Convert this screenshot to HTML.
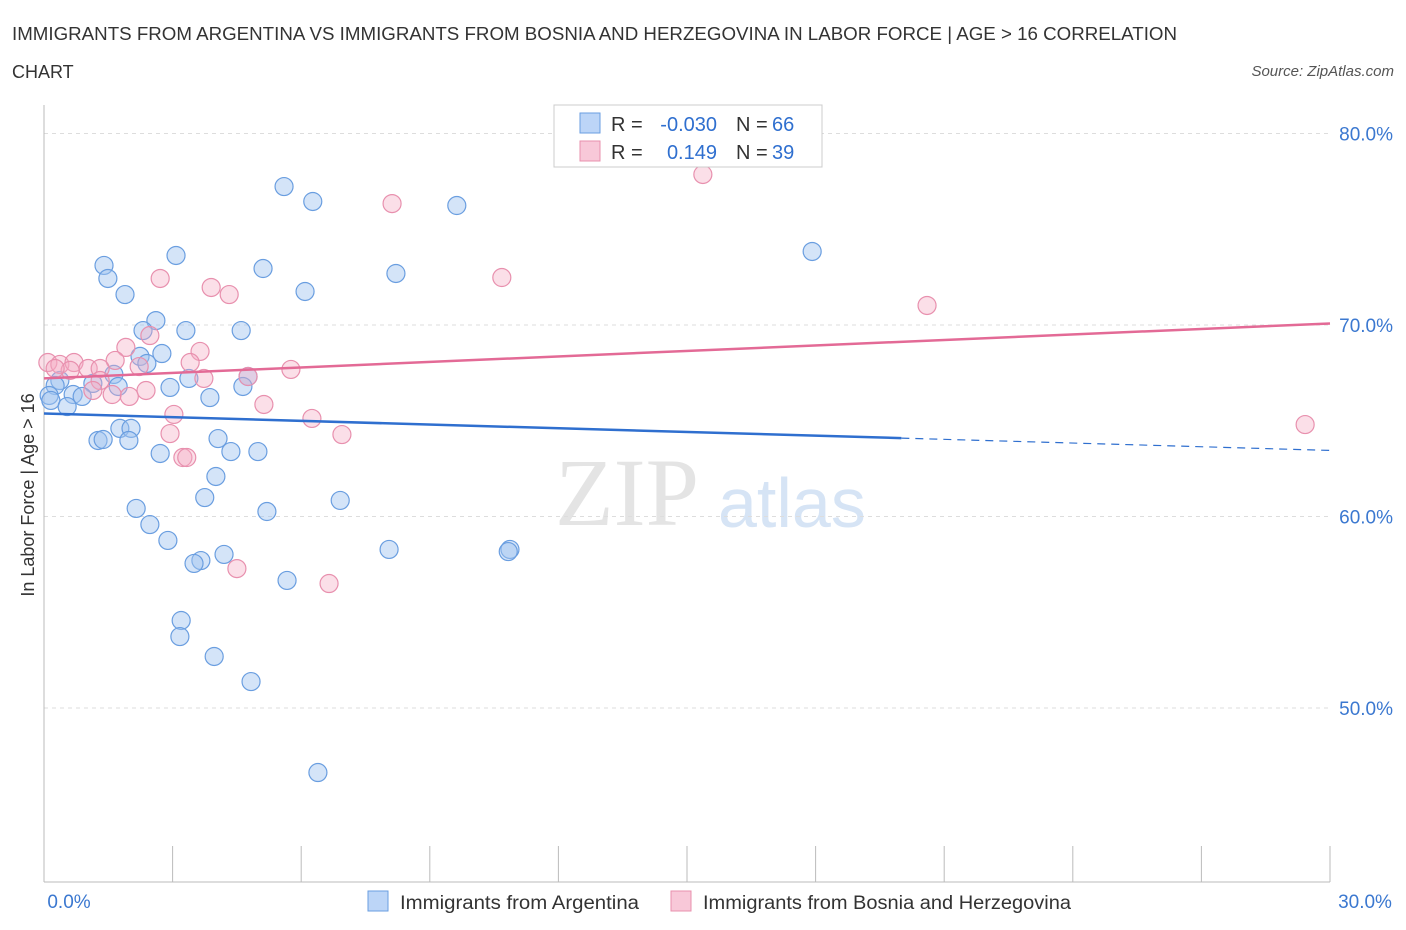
<!DOCTYPE html>
<html><head><meta charset="utf-8"><style>
body{margin:0;background:#fff;font-family:"Liberation Sans",sans-serif;}
svg{display:block}
</style></head><body>
<svg id="c" width="1406" height="930">
<text x="12" y="40" font-size="18" fill="#333" textLength="1165" lengthAdjust="spacingAndGlyphs">IMMIGRANTS FROM ARGENTINA VS IMMIGRANTS FROM BOSNIA AND HERZEGOVINA IN LABOR FORCE | AGE &gt; 16 CORRELATION</text>
<text x="12" y="78" font-size="18" fill="#333">CHART</text>
<text x="1394" y="76" font-size="15" fill="#555" font-style="italic" text-anchor="end">Source: ZipAtlas.com</text>
<text x="0" y="0" transform="translate(34,495) rotate(-90)" font-size="18" fill="#333" text-anchor="middle">In Labor Force | Age &gt; 16</text>
<text x="555" y="525" font-size="96" fill="#e4e4e4" font-family="Liberation Serif,serif">ZIP</text>
<text x="718" y="527" font-size="70" fill="#d6e4f5">atlas</text>
<g id="grid"></g><g id="pts"></g><g id="lines"></g>
<g>
<rect x="554" y="105" width="268" height="62" fill="#fff" stroke="#ccc"/>
<rect x="580" y="113" width="20" height="20" fill="#bcd5f7" stroke="#6a9ee0"/>
<text x="611" y="131" font-size="20" fill="#333">R =</text>
<text x="717" y="131" font-size="20" fill="#2f6fcf" text-anchor="end">-0.030</text>
<text x="736" y="131" font-size="20" fill="#333">N =</text>
<text x="772" y="131" font-size="20" fill="#2f6fcf">66</text>
<rect x="580" y="141" width="20" height="20" fill="#f8c8d8" stroke="#e890ae"/>
<text x="611" y="159" font-size="20" fill="#333">R =</text>
<text x="717" y="159" font-size="20" fill="#2f6fcf" text-anchor="end">0.149</text>
<text x="736" y="159" font-size="20" fill="#333">N =</text>
<text x="772" y="159" font-size="20" fill="#2f6fcf">39</text>
</g>
<g>
<rect x="368" y="891" width="20" height="20" fill="#bcd5f7" stroke="#6a9ee0"/>
<text x="400" y="909" font-size="19" fill="#333" textLength="239" lengthAdjust="spacingAndGlyphs">Immigrants from Argentina</text>
<rect x="671" y="891" width="20" height="20" fill="#f8c8d8" stroke="#e890ae"/>
<text x="703" y="909" font-size="19" fill="#333" textLength="368" lengthAdjust="spacingAndGlyphs">Immigrants from Bosnia and Herzegovina</text>
</g>
</svg>
<script>
const blueX=[5.60,6.27,9.63,17.92,3.08,1.40,1.49,5.11,8.21,1.89,6.09,2.61,2.31,3.31,4.60,2.75,2.24,2.40,1.63,3.38,4.76,4.64,2.94,1.73,1.14,0.37,0.26,0.12,0.16,0.68,0.89,0.54,3.87,1.77,2.03,1.26,1.38,1.98,4.06,2.71,4.36,4.99,4.01,3.75,6.91,2.15,5.20,2.47,2.89,8.05,10.87,10.83,4.20,3.66,3.50,5.67,3.20,3.17,3.97,4.83,6.39];
const blueY=[77.23,76.45,76.24,73.84,73.63,73.11,72.43,72.95,72.69,71.59,71.75,70.23,69.71,69.71,69.71,68.51,68.36,67.99,67.42,67.21,67.31,66.79,66.74,66.79,66.95,67.10,66.84,66.32,66.06,66.37,66.27,65.74,66.21,64.60,64.60,63.97,64.02,63.97,64.07,63.29,63.39,63.39,62.09,60.99,60.84,60.42,60.26,59.58,58.75,58.28,58.28,58.17,58.02,57.70,57.55,56.66,54.57,53.73,52.69,51.38,46.63];
const pinkX=[15.37,8.12,2.71,10.68,3.90,4.32,20.60,2.47,1.91,3.64,1.66,3.41,0.09,0.37,0.70,1.03,1.31,2.22,5.76,0.61,3.73,4.76,1.31,1.14,1.59,2.38,1.99,5.13,3.03,6.25,2.94,6.95,3.24,29.42,3.33,4.50,6.65,0.26];
const pinkY=[77.86,76.34,72.43,72.48,71.96,71.59,71.02,69.45,68.83,68.62,68.15,68.04,68.04,67.94,68.04,67.73,67.73,67.83,67.68,67.63,67.21,67.31,67.10,66.58,66.37,66.58,66.27,65.85,65.33,65.12,64.33,64.28,63.08,64.80,63.08,57.28,56.50,67.73];
const blueLine=[65.38,63.45]; const pinkLine=[67.21,70.08];
const yTicks=[50,60,70,80]; const xTicks=[0,3,6,9,12,15,18,21,24,27,30];
const NS="http://www.w3.org/2000/svg";
const sx=v=>44+v/30*1286, sy=v=>133.5+(80-v)*19.15;
function mk(t,a,p){const e=document.createElementNS(NS,t);for(const k in a)e.setAttribute(k,a[k]);p.appendChild(e);return e;}
const g=document.getElementById('grid');
yTicks.forEach(t=>{const l=mk('line',{x1:44,x2:1330,y1:sy(t),y2:sy(t),stroke:'#ddd','stroke-dasharray':'4,4'},g);


const tx=mk('text',{x:1393,y:sy(t)+7,'font-size':19,fill:'#3b78d0','text-anchor':'end'},g);tx.textContent=t.toFixed(1)+'%';

});
mk('line',{x1:44,x2:44,y1:105,y2:882,stroke:'#bbb'},g);
mk('line',{x1:44,x2:1330,y1:882,y2:882,stroke:'#bbb'},g);
xTicks.forEach(t=>{const l=mk('line',{x1:sx(t),x2:sx(t),y1:846,y2:882,stroke:'#bbb'},g);

});
[[0,'0.0%',69],[30,'30.0%',1365]].forEach(([v,s,x])=>{const tx=mk('text',{x:x,y:908,'font-size':19,fill:'#3b78d0','text-anchor':'middle'},g);tx.textContent=s;

});
const P=document.getElementById('pts');
blueX.forEach((x,i)=>{const c=mk('circle',{cx:sx(x),cy:sy(blueY[i]),r:9,fill:'rgba(160,196,240,0.45)',stroke:'#6a9ee0','stroke-width':1.2},P);

});
pinkX.forEach((x,i)=>{const c=mk('circle',{cx:sx(x),cy:sy(pinkY[i]),r:9,fill:'rgba(245,170,195,0.38)',stroke:'#e890ae','stroke-width':1.2},P);

});
const L=document.getElementById('lines');
const by=x=>blueLine[0]+(blueLine[1]-blueLine[0])*x/30;
let l1=mk('line',{x1:sx(0),y1:sy(by(0)),x2:sx(20),y2:sy(by(20)),stroke:'#2f6fcf','stroke-width':2.5},L);


let l2=mk('line',{x1:sx(20),y1:sy(by(20)),x2:sx(30),y2:sy(by(30)),stroke:'#2f6fcf','stroke-width':1.2,'stroke-dasharray':'8,6'},L);


let l3=mk('line',{x1:sx(0),y1:sy(pinkLine[0]),x2:sx(30),y2:sy(pinkLine[1]),stroke:'#e36a96','stroke-width':2.5},L);


</script>
</body></html>
